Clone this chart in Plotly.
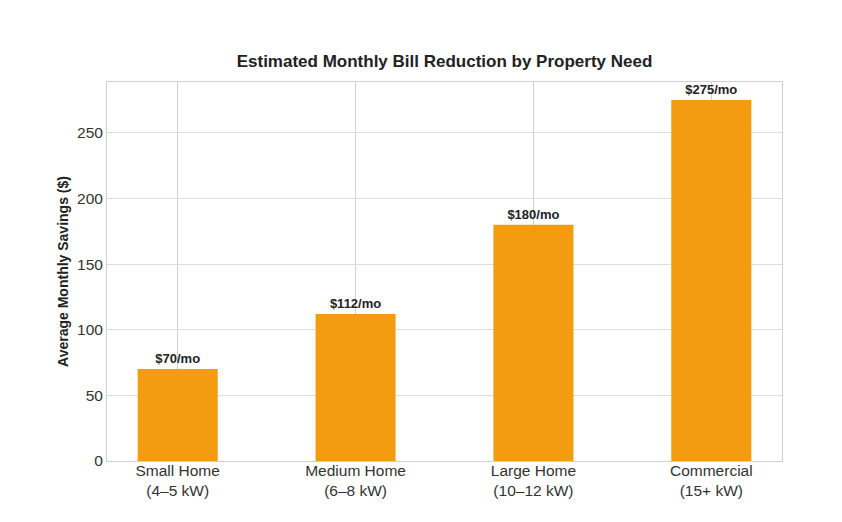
import plotly.graph_objects as go

categories = ["Small Home<br>(4–5 kW)", "Medium Home<br>(6–8 kW)", "Large Home<br>(10–12 kW)", "Commercial<br>(15+ kW)"]
savings = [70, 112, 180, 275]
labels = [f"${v}/mo" for v in savings]
y_ticks = [0, 50, 100, 150, 200, 250]

FONT = "Liberation Sans, Arial, sans-serif"

fig = go.Figure()
fig.add_trace(go.Bar(
    x=list(range(len(categories))),
    y=savings,
    width=0.45,
    marker=dict(color="#F39C12", line=dict(width=0)),
    text=labels,
    textposition="outside",
    textfont=dict(family=FONT, size=13, color="#222222", weight="bold"),
    cliponaxis=False,
    hoverinfo="skip",
))

fig.update_layout(
    width=842, height=522,
    margin=dict(l=99, r=68, t=74, b=69),
    paper_bgcolor="white", plot_bgcolor="white",
    showlegend=False,
    title=dict(text="<b>Estimated Monthly Bill Reduction by Property Need</b>",
               x=0.5, xref="paper", xanchor="center", y=0.8985, yanchor="middle",
               font=dict(family=FONT, size=17, color="#222222")),
    font=dict(family=FONT, color="#333333"),
)
fig.update_xaxes(
    range=[-0.3975, 3.3975],
    tickmode="array", tickvals=list(range(len(categories))), ticktext=categories,
    tickfont=dict(family=FONT, size=15.5, color="#333333"),
    ticklabelstandoff=-5,
    showgrid=True, gridcolor="#d0d0d0", gridwidth=1,
    showline=True, linecolor="#d0d0d0", linewidth=1, mirror=True,
    ticks="", zeroline=False,
)
fig.update_yaxes(
    range=[0, 288.75],
    tickmode="array", tickvals=y_ticks,
    tickfont=dict(family=FONT, size=15.5, color="#333333"),
    showgrid=True, gridcolor="#dddddd", gridwidth=1,
    showline=True, linecolor="#d0d0d0", linewidth=1, mirror=True,
    ticks="", zeroline=False,
    title=dict(text="<b>Average Monthly Savings ($)</b>", standoff=5,
               font=dict(family=FONT, size=14, color="#222222")),
)

fig.write_html("out.html")
